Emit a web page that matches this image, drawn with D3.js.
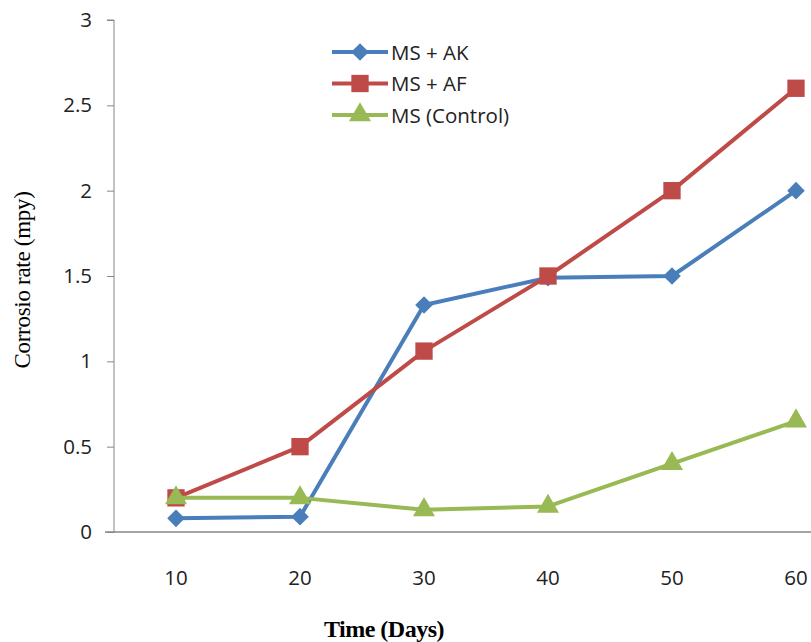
<!DOCTYPE html>
<html>
<head>
<meta charset="utf-8">
<script src="https://cdn.jsdelivr.net/npm/d3@7"></script>
<style>
  body { margin: 0; background: #fff; }
</style>
</head>
<body>
<div class="canvas"></div>
<script>
const days = ['10', '20', '30', '40', '50', '60'];
const seriesNames = ['MS + AK', 'MS + AF', 'MS (Control)'];
const msAK = [0.08, 0.09, 1.33, 1.49, 1.50, 2.00];
const msAF = [0.20, 0.50, 1.06, 1.50, 2.00, 2.60];
const msControl = [0.20, 0.20, 0.13, 0.15, 0.40, 0.65];
const yTicks = [0, 0.5, 1, 1.5, 2, 2.5, 3];

const dimensions = { width: 811, height: 642 };
const plot = { left: 114, top: 20, bottom: 532, step: 124 };

const svg = d3.select('.canvas')
    .append('svg')
    .attr('width', dimensions.width)
    .attr('height', dimensions.height);

const x = d3.scalePoint()
    .domain(days)
    .range([plot.left + plot.step / 2, plot.left + plot.step * 5.5]);

const y = d3.scaleLinear()
    .domain([0, 3])
    .range([plot.bottom, plot.top]);

// diamond = square turned 45 degrees
const series = [
    { name: seriesNames[0], values: msAK, color: '#4a7ebb', shape: d3.symbolSquare, size: 155, rotate: 45 },
    { name: seriesNames[1], values: msAF, color: '#be4b48', shape: d3.symbolSquare, size: 300, rotate: 0 },
    { name: seriesNames[2], values: msControl, color: '#98b954', shape: d3.symbolTriangle, size: 210, rotate: 0 }
];

const tickFont = '"Open Sans", sans-serif';

// y axis
const yAxis = svg.append('g')
    .attr('transform', `translate(${plot.left}, 0)`)
    .call(d3.axisLeft(y).tickValues(yTicks).tickSize(7).tickPadding(15).tickFormat(d3.format('')));
yAxis.select('.domain').attr('stroke', '#868686').attr('d', `M-7,${plot.top}H0V${plot.bottom}`);
yAxis.selectAll('line').attr('stroke', '#868686');
yAxis.selectAll('text')
    .attr('fill', '#222')
    .style('font-family', tickFont)
    .style('font-size', '20.5px');

// x axis line
svg.append('line')
    .attr('x1', 105).attr('x2', dimensions.width)
    .attr('y1', plot.bottom).attr('y2', plot.bottom)
    .attr('stroke', '#868686').attr('stroke-width', 1.5);

// x tick labels
svg.append('g').selectAll('text')
    .data(days)
    .join('text')
    .attr('x', d => x(d))
    .attr('y', 585)
    .attr('text-anchor', 'middle')
    .attr('fill', '#222')
    .style('font-family', tickFont)
    .style('font-size', '20.5px')
    .text(d => d);

// axis titles
svg.append('text')
    .attr('x', 384).attr('y', 637)
    .attr('text-anchor', 'middle')
    .style('font-family', '"Liberation Serif", serif')
    .style('font-size', '24px')
    .style('font-weight', 'bold')
    .style('letter-spacing', '-0.5px')
    .text('Time (Days)');

svg.append('text')
    .attr('transform', 'translate(30, 280) rotate(-90)')
    .attr('text-anchor', 'middle')
    .style('font-family', '"Liberation Serif", serif')
    .style('font-size', '23px')
    .style('letter-spacing', '-0.3px')
    .text('Corrosio rate (mpy)');

// lines and markers
const line = d3.line()
    .x((v, i) => x(days[i]))
    .y(v => y(v));

series.forEach(s => {
    svg.append('path')
        .attr('d', line(s.values))
        .attr('fill', 'none')
        .attr('stroke', s.color)
        .attr('stroke-width', 4)
        .attr('stroke-linejoin', 'round');

    svg.append('g').selectAll('path')
        .data(s.values)
        .join('path')
        .attr('transform', (v, i) => `translate(${x(days[i])}, ${y(v)}) rotate(${s.rotate})`)
        .attr('d', d3.symbol().type(s.shape).size(s.size))
        .attr('fill', s.color);
});

// legend
const legend = svg.append('g').attr('transform', 'translate(332, 52)');
series.forEach((s, i) => {
    const row = legend.append('g').attr('transform', `translate(0, ${i * 31.5})`);
    row.append('line')
        .attr('x1', 0).attr('x2', 56)
        .attr('stroke', s.color).attr('stroke-width', 4);
    row.append('path')
        .attr('transform', `translate(28, 0) rotate(${s.rotate})`)
        .attr('d', d3.symbol().type(s.shape).size(s.size))
        .attr('fill', s.color);
    row.append('text')
        .attr('x', 59).attr('y', 7.5)
        .attr('fill', '#222')
        .style('font-family', tickFont)
        .style('font-size', '20.5px')
        .text(s.name);
});
</script>
</body>
</html>
